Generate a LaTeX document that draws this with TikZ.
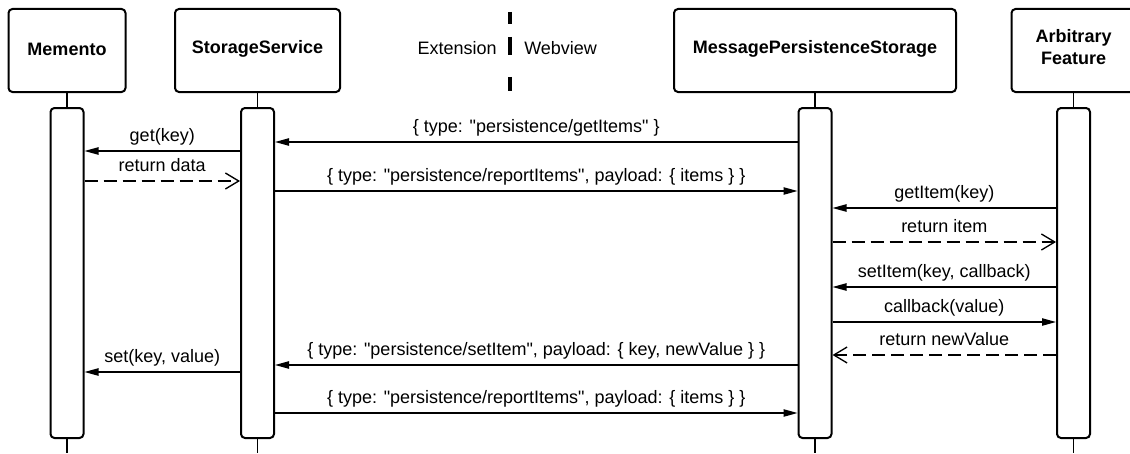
\documentclass[tikz,border=0pt]{standalone}
\usepackage{fontspec}
\setmainfont{Liberation Sans}[Ligatures=TeXOff]
\usetikzlibrary{arrows.meta}
\begin{document}
\begin{tikzpicture}[x=0.75pt,y=-0.75pt,
  font=\fontsize{13.5}{16}\selectfont,
  hdr/.style={draw, line width=1.5pt, rounded corners=3pt, inner sep=0pt, minimum height=62.25pt},
  hdrtxt/.style={font=\fontsize{13.5}{16.5}\selectfont\bfseries, align=center, inner sep=0pt},
  act/.style={draw, line width=1.5pt, rounded corners=3pt, fill=white, minimum width=24.75pt, minimum height=247.5pt, inner sep=0pt},
  life/.style={line width=1pt},
  msg/.style={line width=1pt, -{Triangle[length=10.5pt,width=5.5pt]}},
  ret/.style={line width=1pt, dash pattern=on 9.75pt off 4.5pt, -{Straight Barb[length=10pt,width=12pt,line width=1pt]}},
  lbl/.style={midway, anchor=base, yshift=7.5pt, inner sep=0pt}]
\useasboundingbox (0,0) rectangle (1130,453);

% headers
\node[hdr, minimum width=87.75pt] (mem) at (67,50.5) {};
\node[hdr, minimum width=123.75pt] (ss) at (257.5,50.5) {};
\node[hdr, minimum width=211.5pt] (mps) at (815,50.5) {};
\node[hdr, minimum width=93pt] (af) at (1073.5,50.5) {};
\node[hdrtxt] (memt) at (67,49) {Memento};
\node[hdrtxt] (sst) at (257.5,49) {StorageService};
\node[hdrtxt] (mpst) at (815,49) {MessagePersistenceStorage};
\node[hdrtxt] (aft) at (1073.5,47) {Arbitrary\\Feature};

% divider
\draw[line width=3pt] (510,12) -- (510,24);
\draw[line width=3pt] (510,37) -- (510,55);
\draw[line width=3pt] (510,77) -- (510,91);
\node[anchor=base east, inner sep=0pt] (ext) at (497,55) {Extension};
\node[anchor=base west, inner sep=0pt] (web) at (524,55) {Webview};

% activations
\node[act] (actM) at (67,273) {};
\node[act] (actS) at (257.5,273) {};
\node[act] (actP) at (815,273) {};
\node[act] (actA) at (1073.5,273) {};

% lifelines
\coordinate (endM) at (67,453);
\coordinate (endS) at (257.5,453);
\coordinate (endP) at (815,453);
\coordinate (endA) at (1073.5,453);
\draw[life] (mem.south) -- (actM.north);
\draw[life] (ss.south) -- (actS.north);
\draw[life] (mps.south) -- (actP.north);
\draw[life] (af.south) -- (actA.north);
\draw[life] (actM.south) -- (endM);
\draw[life] (actS.south) -- (endS);
\draw[life] (actP.south) -- (endP);
\draw[life] (actA.south) -- (endA);

% messages
\draw[msg] (actP.west |- 0,142) -- node[lbl]{\{ type: "persistence/getItems" \}} (actS.east |- 0,142);
\draw[msg] (actS.west |- 0,151) -- node[lbl]{get(key)} (actM.east |- 0,151);
\draw[ret] (actM.east |- 0,181) -- node[lbl]{return data} (actS.west |- 0,181);
\draw[msg] (actS.east |- 0,191) -- node[lbl]{\{ type: "persistence/reportItems", payload: \{ items \} \}} (actP.west |- 0,191);
\draw[msg] (actA.west |- 0,208) -- node[lbl]{getItem(key)} (actP.east |- 0,208);
\draw[ret] (actP.east |- 0,242) -- node[lbl]{return item} (actA.west |- 0,242);
\draw[msg] (actA.west |- 0,287) -- node[lbl]{setItem(key, callback)} (actP.east |- 0,287);
\draw[msg] (actP.east |- 0,322) -- node[lbl]{callback(value)} (actA.west |- 0,322);
\draw[ret] (actA.west |- 0,355) -- node[lbl]{return newValue} (actP.east |- 0,355);
\draw[msg] (actP.west |- 0,365) -- node[lbl]{\{ type: "persistence/setItem", payload: \{ key, newValue \} \}} (actS.east |- 0,365);
\draw[msg] (actS.west |- 0,372) -- node[lbl]{set(key, value)} (actM.east |- 0,372);
\draw[msg] (actS.east |- 0,413) -- node[lbl]{\{ type: "persistence/reportItems", payload: \{ items \} \}} (actP.west |- 0,413);
\end{tikzpicture}
\end{document}
